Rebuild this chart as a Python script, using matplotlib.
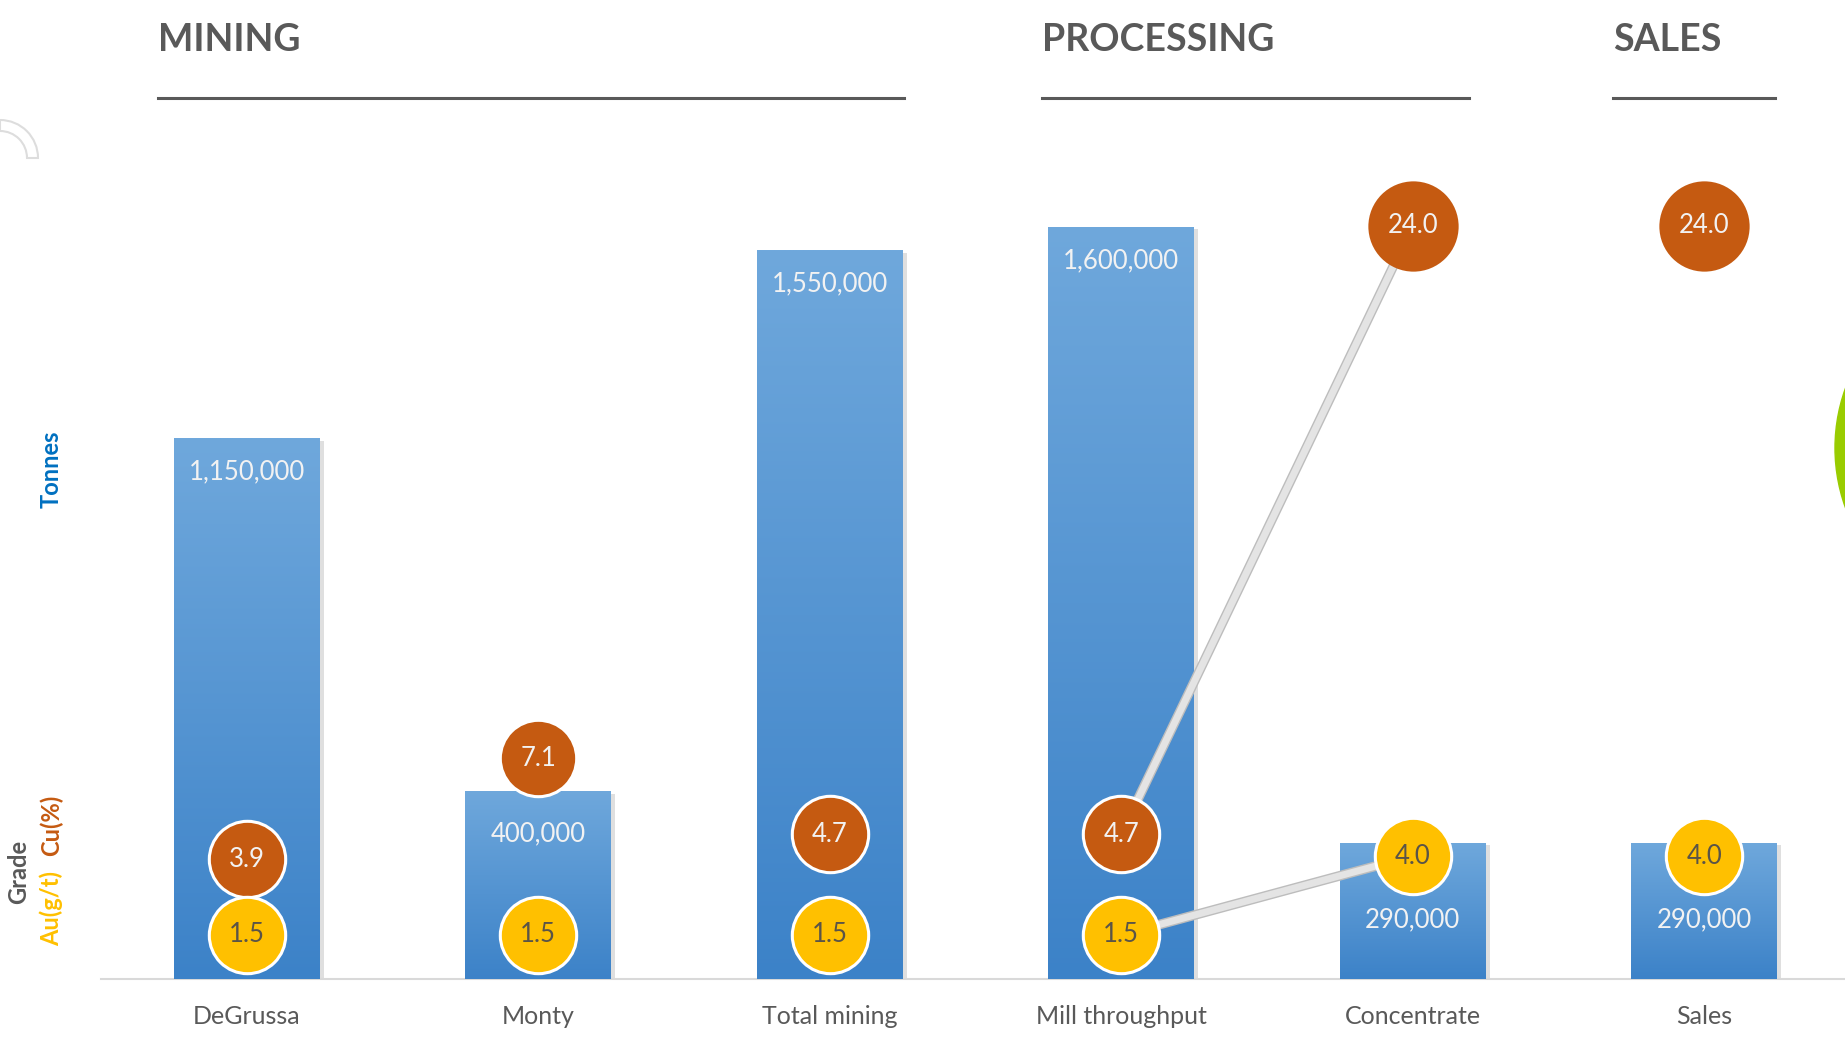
import numpy as np
import matplotlib.pyplot as plt
import matplotlib.patheffects as pe
from matplotlib.colors import LinearSegmentedColormap
from matplotlib.patches import Wedge, Circle
from matplotlib.transforms import IdentityTransform

plt.rcParams['font.family'] = ['Lato', 'DejaVu Sans']

# data
categories = ['DeGrussa', 'Monty', 'Total mining', 'Mill throughput', 'Concentrate', 'Sales']
tonnes = [1150000, 400000, 1550000, 1600000, 290000, 290000]
cu_grade = [3.9, 7.1, 4.7, 4.7, 24.0, 24.0]
au_grade = [1.5, 1.5, 1.5, 1.5, 4.0, 4.0]
sections = ['MINING', 'PROCESSING', 'SALES']

W, H = 1845, 1039
fig = plt.figure(figsize=(W / 100, H / 100), dpi=100)
fig.patch.set_facecolor('white')

ymax = 1.85e6
ax = fig.add_axes([101 / W, (H - 979) / H, 1749 / W, 870 / H])

x = np.arange(len(categories))
bars = ax.bar(x, tonnes, width=0.5, color='#5B9BD5', zorder=2,
              path_effects=[pe.SimplePatchShadow(offset=(3, -2), shadow_rgbFace='#606060', alpha=0.2), pe.Normal()])

cmap = LinearSegmentedColormap.from_list('blu', ['#3C82C8', '#6FA8DC'])
grad = np.linspace(0, 1, 256).reshape(-1, 1)
for b in bars:
    x0 = b.get_x()
    im = ax.imshow(grad, extent=(x0, x0 + b.get_width(), 0, b.get_height()), origin='lower',
                   cmap=cmap, aspect='auto', zorder=3)
    im.set_clip_path(b)
ax.set_xlim(-0.5, 5.5)
ax.set_ylim(0, ymax)

# bar value labels
label_drop = [34, 43, 34, 34, 77, 77]
for i, v in enumerate(tonnes):
    ax.annotate(f'{v:,}', (x[i], v), xytext=(0, -label_drop[i]), textcoords='offset pixels',
                ha='center', va='center', fontsize=18.5, color='#F2F2F2', zorder=4)

for s in ['top', 'right', 'left']:
    ax.spines[s].set_visible(False)
ax.spines['bottom'].set_color('#D9D9D9')
ax.spines['bottom'].set_linewidth(1.5)
ax.set_yticks([])
ax.set_xticks(x)
ax.set_xticklabels(categories, fontsize=18, color='#595959')
ax.tick_params(axis='x', length=0, pad=19)
ax.patch.set_visible(False)

# grades on the secondary axis
ax2 = ax.twinx()
ax2.set_ylim(0.1, 27.7)
ax2.axis('off')

line_fx = [pe.Stroke(linewidth=7, foreground='#BDBDBD'), pe.Normal()]
ax2.plot(x[3:5], cu_grade[3:5], color='#E4E4E4', lw=5, zorder=1, path_effects=line_fx, solid_capstyle='butt')
ax2.plot(x[3:5], au_grade[3:5], color='#E4E4E4', lw=5, zorder=1, path_effects=line_fx, solid_capstyle='butt')

cu_size = [55, 55, 55, 55, 65, 65]
cu_edge = [2.2, 2.2, 2.2, 2.2, 0, 0]
for i in range(len(categories)):
    ax2.plot(x[i], cu_grade[i], ls='none', marker='o', ms=cu_size[i], mfc='#C55A11', mec='white',
             mew=cu_edge[i], zorder=3)
    ax2.plot(x[i], au_grade[i], ls='none', marker='o', ms=55, mfc='#FFC000', mec='white', mew=2.2, zorder=3)
    ax2.text(x[i], cu_grade[i], f'{cu_grade[i]:.1f}', ha='center', va='center', fontsize=18.5,
             color='#F2F2F2', zorder=4)
    ax2.text(x[i], au_grade[i], f'{au_grade[i]:.1f}', ha='center', va='center', fontsize=18.5,
             color='#5A5448', zorder=4)

# section headers
hdr_x = [158, 1042, 1613]
hdr_end = [904, 1469, 1775]
for name, x0, x1 in zip(sections, hdr_x, hdr_end):
    fig.text(x0 / W, 1 - 40 / H, name, ha='left', va='center', fontsize=27, fontweight='bold', color='#595959')
    fig.add_artist(plt.Line2D([x0 / W, x1 / W], [1 - 98 / H, 1 - 98 / H], color='#595959', lw=2.2))

# axis titles
fig.text(51 / W, 1 - 469 / H, 'Tonnes', rotation=90, ha='center', va='center', fontsize=17,
         fontweight='bold', color='#0070C0')
fig.text(19 / W, 1 - 872 / H, 'Grade', rotation=90, ha='center', va='center', fontsize=17,
         fontweight='bold', color='#595959')
fig.text(51 / W, 1 - 908 / H, 'Au(g/t)', rotation=90, ha='center', va='center', fontsize=17,
         fontweight='bold', color='#FFC000')
fig.text(51 / W, 1 - 825 / H, 'Cu(%)', rotation=90, ha='center', va='center', fontsize=17,
         fontweight='bold', color='#C55A11')

# slide decorations (pixel coordinates)
fig.add_artist(Wedge((0, H - 158), 38, 0, 90, width=11, facecolor='white',
                     edgecolor='#DDDDDD', lw=1.5, transform=IdentityTransform()))
fig.add_artist(Circle((2011, H - 448), 176, color='#99CC00', transform=IdentityTransform()))

fig.savefig('out.png', dpi=100)
